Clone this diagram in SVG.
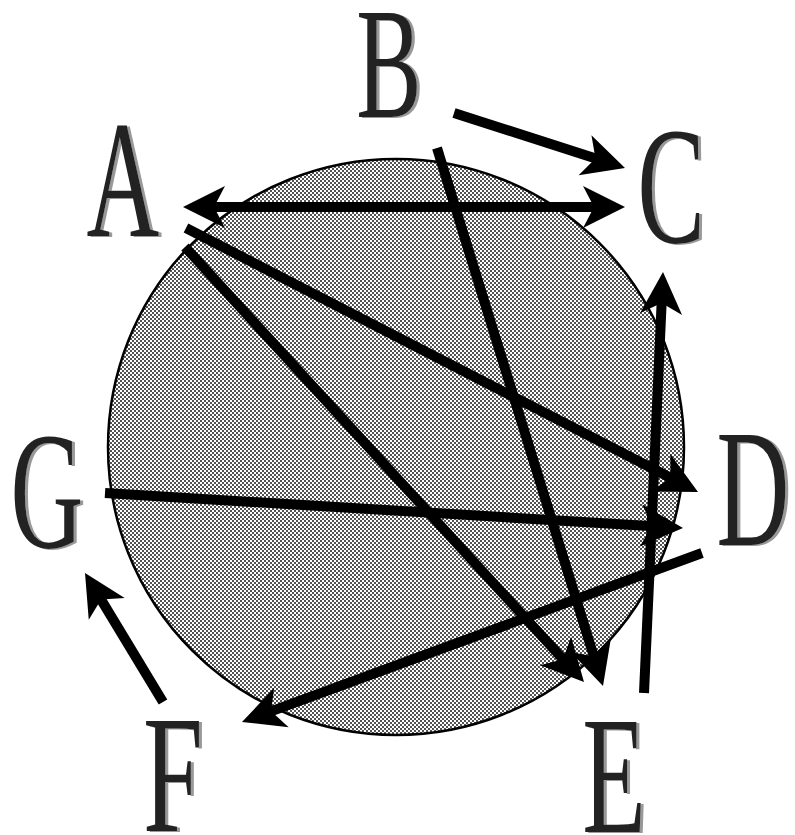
<svg xmlns="http://www.w3.org/2000/svg" xmlns:xlink="http://www.w3.org/1999/xlink" width="795" height="835" viewBox="0 0 795 835">
<style>
.lbl{font-family:"Liberation Serif","Times New Roman",serif;text-anchor:middle;fill:#222;filter:url(#shadow)}
.ln{stroke:#000;stroke-width:10;fill:none;stroke-linecap:butt}
</style>
<defs>
<pattern id="dots" width="4" height="4" patternUnits="userSpaceOnUse">
<rect width="4" height="4" fill="#ffffff"/>
<circle cx="1" cy="1" r="0.9" fill="#000"/>
<circle cx="3" cy="3" r="0.9" fill="#000"/>
</pattern>
<filter id="shadow" x="-20%" y="-20%" width="140%" height="140%">
<feOffset in="SourceAlpha" dx="5" dy="1" result="off"/>
<feFlood flood-color="#999999"/>
<feComposite in2="off" operator="in" result="sh"/>
<feMerge><feMergeNode in="sh"/><feMergeNode in="SourceGraphic"/></feMerge>
</filter>
<path id="head" d="M0,0 L-42,-21 L-31,0 L-42,21 Z" fill="#000"/>
</defs>
<rect width="795" height="835" fill="#fff"/>
<g id="ring">
<circle cx="396" cy="447" r="288" fill="url(#dots)" stroke="#000" stroke-width="2.5"/>
</g>
<g id="connectors">
<line class="ln" x1="454" y1="113" x2="601.2" y2="160.3"/>
<use xlink:href="#head" transform="translate(625,168) rotate(17.8)"/>
<line class="ln" x1="208" y1="207" x2="600" y2="207"/>
<use xlink:href="#head" transform="translate(625,207)"/>
<use xlink:href="#head" transform="translate(183,207) rotate(180)"/>
<line class="ln" x1="186" y1="228" x2="675.8" y2="480.5"/>
<use xlink:href="#head" transform="translate(698,492) rotate(27.27)"/>
<line class="ln" x1="185" y1="247" x2="567.1" y2="663.6"/>
<use xlink:href="#head" transform="translate(584,682) rotate(47.47)"/>
<line class="ln" x1="437" y1="148" x2="595.6" y2="662.1"/>
<use xlink:href="#head" transform="translate(603,686) rotate(72.85)"/>
<line class="ln" x1="105" y1="493" x2="658" y2="526.5"/>
<use xlink:href="#head" transform="translate(683,528) rotate(3.47)"/>
<line class="ln" x1="702" y1="553" x2="265.5" y2="713.4"/>
<use xlink:href="#head" transform="translate(242,722) rotate(159.83)"/>
<line class="ln" x1="644" y1="693" x2="661.9" y2="297"/>
<use xlink:href="#head" transform="translate(663,272) rotate(-87.42)"/>
<line class="ln" x1="163" y1="702" x2="97.9" y2="594.4"/>
<use xlink:href="#head" transform="translate(85,573) rotate(-121.16)"/>
</g>
<g id="A"><text class="lbl" font-size="168" transform="translate(123,236) scale(0.6,1)">A</text></g>
<g id="B"><text class="lbl" font-size="158" transform="translate(389,117) scale(0.62,1)">B</text></g>
<g id="C"><text class="lbl" font-size="168" transform="translate(671,242) scale(0.6,1)">C</text></g>
<g id="D"><text class="lbl" font-size="168" transform="translate(753,545) scale(0.6,1)">D</text></g>
<g id="E"><text class="lbl" font-size="168" transform="translate(614,832) scale(0.62,1)">E</text></g>
<g id="F"><text class="lbl" font-size="168" transform="translate(173,831) scale(0.64,1)">F</text></g>
<g id="G"><text class="lbl" font-size="168" transform="translate(47,547) scale(0.6,1)">G</text></g>
</svg>
